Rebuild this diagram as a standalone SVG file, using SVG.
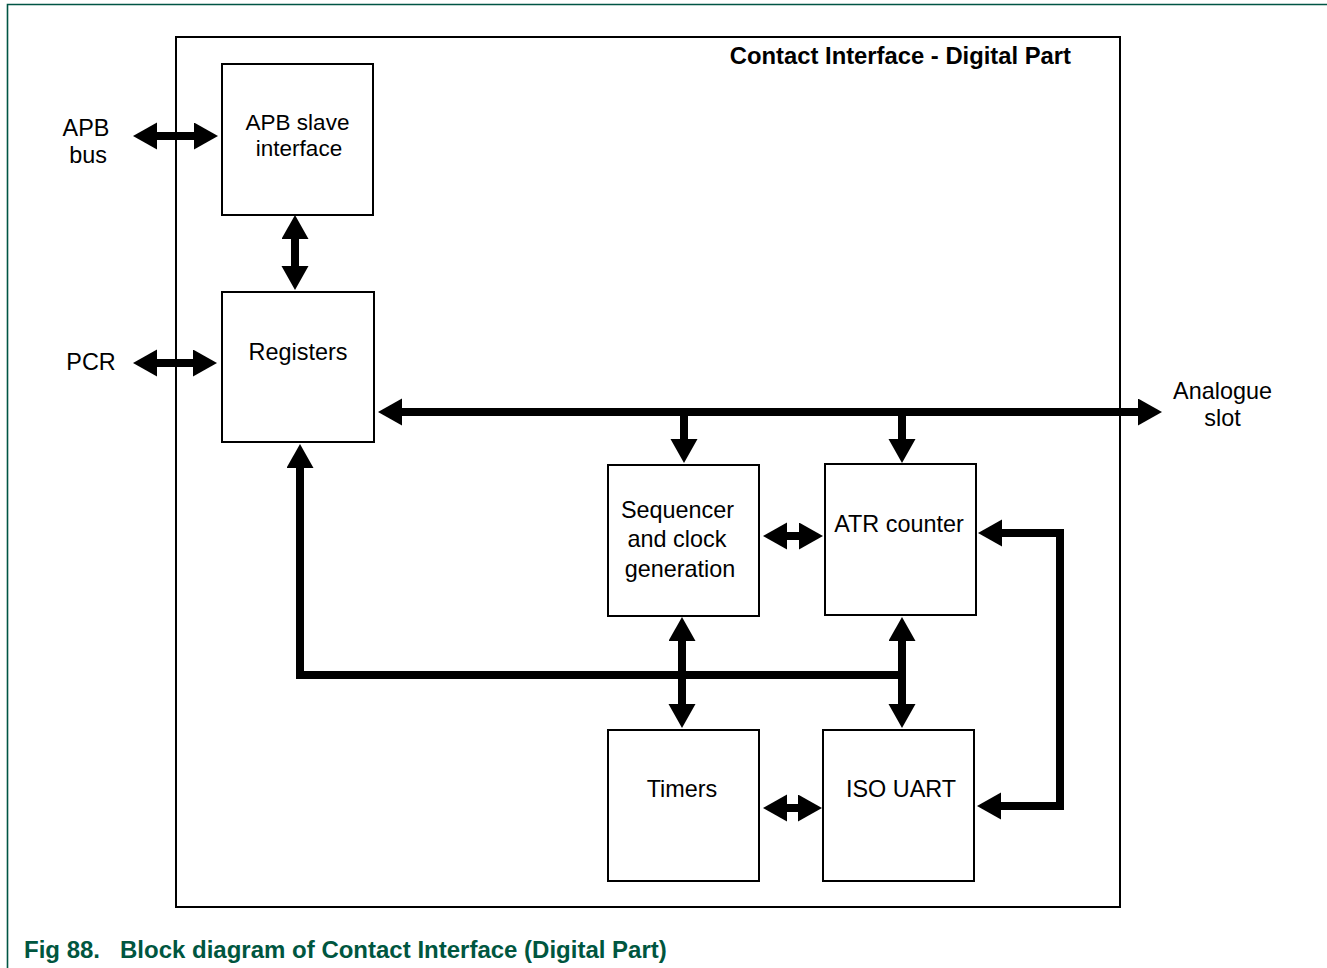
<svg xmlns="http://www.w3.org/2000/svg" width="1327" height="968" viewBox="0 0 1327 968">
<style>
.frame{fill:none;stroke:#005544;stroke-width:1.6}
.box{fill:#fff;stroke:#000;stroke-width:2}
.lbl{font-family:"Liberation Sans",Arial,sans-serif;font-size:23.4px;fill:#000;text-anchor:middle}
.sm{font-size:22.5px}
.ttl{font-family:"Liberation Sans",Arial,sans-serif;font-size:23.8px;font-weight:bold;fill:#000;text-anchor:end}
.cap{font-family:"Liberation Sans",Arial,sans-serif;font-size:24px;font-weight:bold;fill:#00563f}
.w{fill:none;stroke:#000;stroke-width:8;stroke-linejoin:miter;stroke-linecap:butt}
</style>
<defs>
<marker id="ah" markerUnits="userSpaceOnUse" markerWidth="24" markerHeight="28" viewBox="0 0 24 28" refX="1" refY="13.5" orient="auto-start-reverse">
<path d="M0,0 L24,13.5 L0,27 z" fill="#000"/>
</marker>
</defs>
<rect width="1327" height="968" fill="#fff"/>
<path class="frame" d="M1327,4.5 H7.5 V968"/>
<g id="outer">
<rect class="box" x="176" y="37" width="944" height="870" fill="none"/>
<text class="ttl" x="1071" y="64">Contact Interface - Digital Part</text>
</g>
<g id="apb-slave">
<rect class="box" x="222" y="64" width="151" height="151"/>
<text class="lbl sm" x="297.5" y="130">APB slave</text>
<text class="lbl sm" x="299" y="156">interface</text>
</g>
<g id="registers">
<rect class="box" x="222" y="292" width="152" height="150"/>
<text class="lbl" x="298" y="360">Registers</text>
</g>
<g id="sequencer">
<rect class="box" x="608" y="465" width="151" height="151"/>
<text class="lbl" x="677.5" y="518">Sequencer</text>
<text class="lbl" x="677" y="547">and clock</text>
<text class="lbl" x="680" y="577">generation</text>
</g>
<g id="atr">
<rect class="box" x="825" y="464" width="151" height="151"/>
<text class="lbl" x="899" y="532">ATR counter</text>
</g>
<g id="timers">
<rect class="box" x="608" y="730" width="151" height="151"/>
<text class="lbl" x="682" y="797">Timers</text>
</g>
<g id="uart">
<rect class="box" x="823" y="730" width="151" height="151"/>
<text class="lbl" x="901" y="797">ISO UART</text>
</g>
<g id="ext-labels">
<text class="lbl" x="86" y="136">APB</text>
<text class="lbl" x="88" y="163">bus</text>
<text class="lbl" x="91" y="370">PCR</text>
<text class="lbl" x="1222.5" y="399">Analogue</text>
<text class="lbl" x="1222.5" y="426">slot</text>
</g>
<g id="connectors">
<line class="w" x1="156" y1="136" x2="195" y2="136" marker-start="url(#ah)" marker-end="url(#ah)"/>
<line class="w" x1="156" y1="363" x2="194" y2="363" marker-start="url(#ah)" marker-end="url(#ah)"/>
<line class="w" x1="295" y1="238" x2="295" y2="267" marker-start="url(#ah)" marker-end="url(#ah)"/>
<line class="w" x1="401" y1="412" x2="1139" y2="412" marker-start="url(#ah)" marker-end="url(#ah)"/>
<line class="w" x1="684" y1="412" x2="684" y2="440" marker-end="url(#ah)"/>
<line class="w" x1="902" y1="412" x2="902" y2="440" marker-end="url(#ah)"/>
<line class="w" x1="786" y1="536" x2="800" y2="536" marker-start="url(#ah)" marker-end="url(#ah)"/>
<path class="w" d="M905,675 H300 V467" marker-end="url(#ah)"/>
<line class="w" x1="682" y1="640" x2="682" y2="705" marker-start="url(#ah)" marker-end="url(#ah)"/>
<line class="w" x1="902" y1="640" x2="902" y2="705" marker-start="url(#ah)" marker-end="url(#ah)"/>
<line class="w" x1="786" y1="808" x2="799" y2="808" marker-start="url(#ah)" marker-end="url(#ah)"/>
<path class="w" d="M1001,533 H1060 V806 H1000" marker-start="url(#ah)" marker-end="url(#ah)"/>
</g>
<g id="caption">
<text class="cap" x="24" y="958">Fig 88.</text>
<text class="cap" x="120" y="958">Block diagram of Contact Interface (Digital Part)</text>
</g>
</svg>
